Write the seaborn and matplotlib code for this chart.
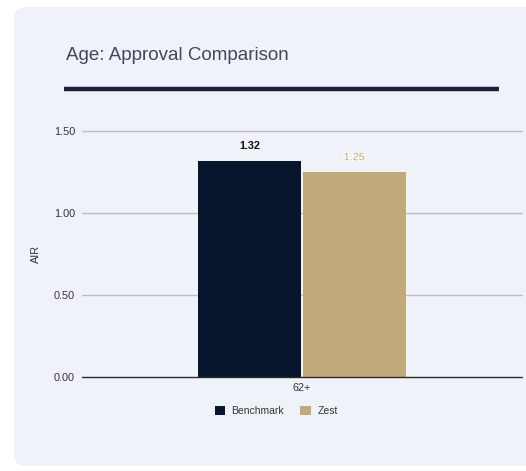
import matplotlib
matplotlib.use("Agg")
import matplotlib.pyplot as plt
import seaborn as sns
import pandas as pd
from matplotlib.patches import FancyBboxPatch, Patch
from matplotlib.lines import Line2D
import matplotlib.patheffects as pe

categories = ["62+"]
series = ["Benchmark", "Zest"]
benchmark_values = [1.32]
zest_values = [1.25]
y_ticks = [0.0, 0.5, 1.0, 1.5]
y_tick_labels = ["0.00", "0.50", "1.00", "1.50"]

colors = {"Benchmark": "#06152b", "Zest": "#c2a97c"}

df = pd.DataFrame({
    "category": categories * 2,
    "series": ["Benchmark"] * len(categories) + ["Zest"] * len(categories),
    "value": benchmark_values + zest_values,
})

sns.set_theme(style="white")
plt.rcParams["font.family"] = ["Liberation Sans", "DejaVu Sans"]

W, H = 526, 471
fig = plt.figure(figsize=(W / 100, H / 100), dpi=100)
fig.patch.set_facecolor("white")

# panel background
panel = FancyBboxPatch((14 / W, 1 - 466 / H), (560 - 14) / W, (466 - 7) / H,
                       boxstyle="round,pad=0,rounding_size=0.025",
                       transform=fig.transFigure, facecolor="#eff2f8",
                       edgecolor="none", zorder=-5)
fig.patches.append(panel)

fig.text(66 / W, 1 - 56 / H, "Age: Approval Comparison", fontsize=13.5,
         color="#45465e", va="center", ha="left")
fig.add_artist(Line2D([64 / W, 499 / W], [1 - 89 / H, 1 - 89 / H],
                      transform=fig.transFigure, color="#1b2238", lw=3.2,
                      solid_capstyle="butt"))

ax = fig.add_axes([82 / W, 1 - 377 / H, (522 - 82) / W, (377 - 131) / H])
ax.set_facecolor("none")
ax.set_zorder(2)
sns.barplot(data=df, x="category", y="value", hue="series", palette=colors,
            width=0.475, gap=0.01, ax=ax, legend=False, saturation=1,
            edgecolor="none")

ax.set_ylim(0, 1.5)
ax.set_xlim(-0.5, 0.5)
ax.set_yticks(y_ticks)
ax.set_yticklabels(y_tick_labels)
for y in y_ticks[1:]:
    ax.axhline(y, color="#bcbec4", lw=1, zorder=0, clip_on=False)
ax.axhline(0, color="#2a2a2a", lw=1, zorder=3, clip_on=False)
for s in ax.spines.values():
    s.set_visible(False)
ax.tick_params(axis="both", length=0, labelsize=7.8, colors="#333333")
ax.tick_params(axis="y", pad=5)
ax.tick_params(axis="x", pad=4)
ax.set_xlabel("")
ax.set_ylabel("AIR", fontsize=7.8, color="#333333", labelpad=9)

# value labels
for cont, name in zip(ax.containers, series):
    for bar in cont:
        h = bar.get_height()
        x = bar.get_x() + bar.get_width() / 2
        if name == "Benchmark":
            ax.annotate(f"{h:.2f}", (x, h), xytext=(0, 7), textcoords="offset points",
                        ha="center", va="bottom", fontsize=7.8, fontweight="bold",
                        color="#111111")
        else:
            t = ax.annotate(f"{h:.2f}", (x, h), xytext=(0, 7), textcoords="offset points",
                            ha="center", va="bottom", fontsize=7.8,
                            color="#bfa373")
            t.set_path_effects([pe.withStroke(linewidth=1.5, foreground="white")])

handles = [Patch(facecolor=colors[s], edgecolor="none", label=s) for s in series]
fig.legend(handles=handles, loc="center", bbox_to_anchor=(276 / W, 1 - 411 / H),
           ncol=2, frameon=False, fontsize=7.5, handlelength=1.0, handleheight=1.0,
           columnspacing=1.6, handletextpad=0.6, labelcolor="#333333")

fig.savefig("out.png", dpi=100)
